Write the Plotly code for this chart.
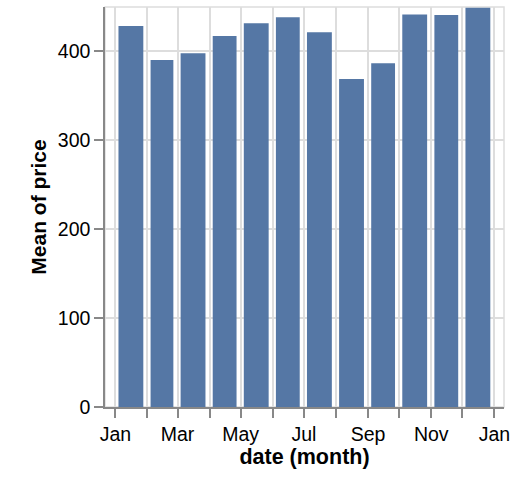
import plotly.graph_objects as go
import pandas as pd

months = ['2012-01-01', '2012-02-01', '2012-03-01', '2012-04-01', '2012-05-01', '2012-06-01',
          '2012-07-01', '2012-08-01', '2012-09-01', '2012-10-01', '2012-11-01', '2012-12-01']
mean_price = [428.6, 390.3, 397.9, 417.3, 431.6, 438.4, 421.5, 369.0, 386.6, 441.7, 441.0, 449.2]

DAY_MS = 86400000
starts = pd.to_datetime(months)
days = starts.days_in_month
# bar spans from 3 days after month start to ~4 days before month end
bar_width = [(d - 7) * DAY_MS for d in days]
bar_offset = [3 * DAY_MS for _ in days]

font_family = 'Liberation Sans, Arial, Helvetica, sans-serif'

fig = go.Figure()
fig.add_trace(go.Bar(
    x=months,
    y=mean_price,
    width=bar_width,
    offset=bar_offset,
    marker_color='#5577a5',
    marker_line_width=0,
    name='Mean of price',
))

fig.update_layout(
    width=524,
    height=486,
    margin=dict(l=105, r=20, t=7, b=79),
    plot_bgcolor='white',
    paper_bgcolor='white',
    font=dict(family=font_family, size=19, color='#000'),
    showlegend=False,
    shapes=[dict(type='rect', xref='paper', yref='paper', x0=0, x1=1, y0=0, y1=1,
                 line=dict(color='#ddd', width=1.5), layer='below')],
)

fig.update_xaxes(
    type='date',
    range=['2011-12-22', '2013-01-10 05:00'],
    tick0='2012-01-01',
    dtick='M2',
    tickformat='%b',
    ticks='outside',
    ticklen=9,
    tickwidth=1.5,
    tickcolor='#888',
    showline=True,
    linecolor='#888',
    linewidth=1.5,
    showgrid=True,
    gridcolor='#ddd',
    gridwidth=1.5,
    minor=dict(dtick='M1', tick0='2012-01-01', ticks='outside', ticklen=9,
               tickwidth=1.5, tickcolor='#888', showgrid=True,
               gridcolor='#ddd', gridwidth=1.5),
    title=dict(text='date (month)', font=dict(size=21.5, weight='bold'), standoff=4),
    tickfont=dict(size=19.5),
)

fig.update_yaxes(
    range=[0, 450],
    dtick=100,
    ticks='outside',
    ticklen=9,
    tickwidth=1.5,
    tickcolor='#888',
    showline=True,
    linecolor='#888',
    linewidth=1.5,
    showgrid=True,
    gridcolor='#ddd',
    gridwidth=1.5,
    zeroline=False,
    title=dict(text='Mean of price', font=dict(size=21, weight='bold'), standoff=5),
    tickfont=dict(size=19.5),
)

fig.write_html('out.html', config={'displayModeBar': False},
               post_script="document.body.style.margin='0';")
